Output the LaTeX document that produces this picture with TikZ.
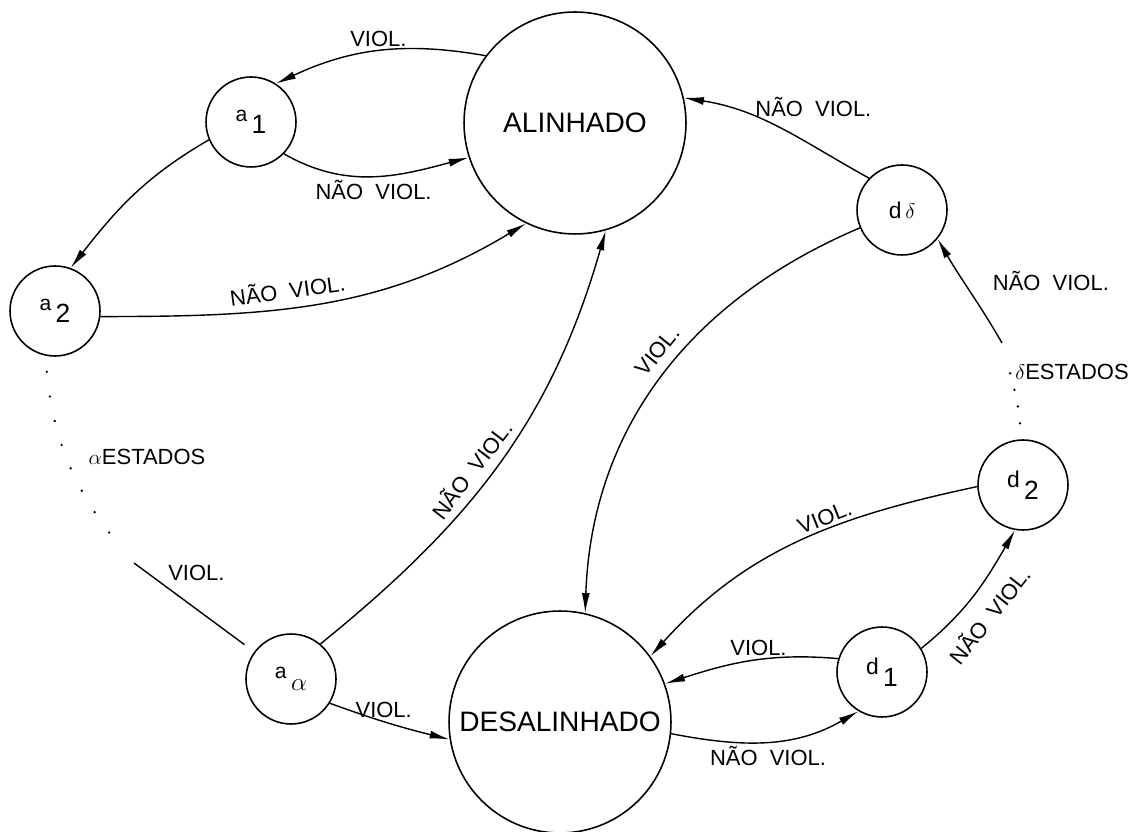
\documentclass[tikz,border=0pt]{standalone}
\usepackage{fontspec}
\setmainfont{Liberation Sans}
\usetikzlibrary{arrows.meta}
\newcommand{\astate}[1]{{\fontsize{12}{14}\selectfont a}\,\raisebox{-7pt}{#1}}
\newcommand{\dstate}[1]{{\fontsize{13}{15}\selectfont d}\,\raisebox{-7pt}{#1}}

\begin{document}
\begin{tikzpicture}[x=0.02cm, y=0.02cm,
    state/.style={draw, circle, line width=0.9pt, minimum size=1.8cm, inner sep=0pt, font=\fontsize{15}{17}\selectfont},
    bigstate/.style={draw, circle, line width=0.9pt, minimum size=4.44cm, inner sep=0pt, font=\fontsize{16}{18}\selectfont},
    trans/.style={-{Latex[length=4mm, width=1.6mm]}, line width=0.8pt},
    plain/.style={line width=0.8pt},
    lbl/.style={font=\fontsize{12.5}{14}\selectfont, inner sep=2pt},
    dotline/.style={line width=1.5pt, line cap=round, dash pattern=on 0pt off #1}]
    \useasboundingbox (0,0) rectangle (1138,831);

    \node[bigstate] (alin) at (575,708) {ALINHADO};
    \node[bigstate] (desal) at (560,109) {DESALINHADO};
    \node[state] (a1) at (251,709) {\astate{1}};
    \node[state] (a2) at (55,520) {\astate{2}};
    \node[state] (aal) at (291,152) {\astate{$\alpha$}};
    \node[state] (dde) at (902,621) {{\fontsize{13}{15}\selectfont d\,$\delta$}};
    \node[state] (d2) at (1023,346) {\dstate{2}};
    \node[state] (d1) at (882,159) {\dstate{1}};
    \coordinate (avstart) at (134,268);
    \coordinate (dvstart) at (1002,488);
    \node[lbl] (aest) at (147,374) {$\alpha$ESTADOS};
    \node[lbl] (dest) at (1072,459) {$\delta$ESTADOS};

    \draw[trans] (alin.143) to[out=170, in=25] node[lbl, above] {VIOL.} (a1.57);
    \draw[trans] (a1.-44) to[out=-30, in=195] node[lbl, below] {NÃO\ \ VIOL.} (alin.198);
    \draw[trans] (a1.203) to[out=210, in=52] (a2.70);
    \draw[trans] (a2.-7) to[out=0, in=211] node[lbl, sloped, above=1mm, pos=.42] {NÃO\ \ VIOL.} (alin.244);
    \draw[dotline=0.5cm, shorten <=0.32cm, shorten >=0.34cm] (a2.258) to[out=-85, in=130] (avstart);
    \draw[plain, shorten >=0.24cm] (avstart) -- node[lbl, pos=.25, above right] {VIOL.} (aal);
    \draw[trans] (aal.50) to[out=39, in=254] node[lbl, sloped, above=1mm, pos=.45] {NÃO\ \ VIOL.} (alin.286);
    \draw[trans] (aal.-32) to[out=-20, in=166] node[lbl, above, pos=.45] {VIOL.} (desal.189);

    \draw[trans] (dde.136) to[out=151, in=-9] node[lbl, pos=.3, above=5mm] {NÃO\ \ VIOL.} (alin.13);
    \draw[trans] (dde.203) to[out=203, in=88] node[lbl, sloped, above=1.5mm, pos=.46] {VIOL.} (desal.77);
    \draw[trans] (d2.182) to[out=192, in=48] node[lbl, sloped, above, pos=.4] {VIOL.} (desal.36);
    \draw[trans] (d1.163) to[out=175, in=18] node[lbl, above, pos=.45] {VIOL.} (desal.20);
    \draw[trans] (desal.-6) to[out=-11, in=210] node[lbl, below, pos=.5] {NÃO\ \ VIOL.} (d1.239);
    \draw[trans] (d1.31) to[out=39, in=240] node[lbl, sloped, below=2mm, pos=.45] {NÃO\ \ VIOL.} (d2.260);
    \draw[dotline=0.34cm, shorten <=0.32cm, shorten >=0.5cm] (d2.92) to[out=95, in=-75] (dvstart);
    \draw[trans] (dvstart) to[out=120, in=-60] node[lbl, pos=.6, right=5mm] {NÃO\ \ VIOL.} (dde.-39);
\end{tikzpicture}
\end{document}
